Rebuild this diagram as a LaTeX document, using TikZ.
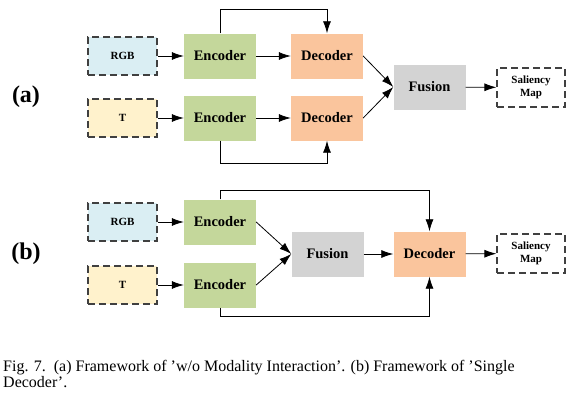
\documentclass[tikz,border=0pt]{standalone}
\usepackage{fontspec}
\setmainfont{Liberation Serif}
\usepackage{tikz}
\usetikzlibrary{arrows.meta}
\usetikzlibrary{calc}
\definecolor{rgbblue}{RGB}{218,238,243}
\definecolor{tyellow}{RGB}{255,242,204}
\definecolor{encgreen}{RGB}{196,215,155}
\definecolor{decorange}{RGB}{250,197,157}
\definecolor{fusgray}{RGB}{211,211,211}
\begin{document}
\begin{tikzpicture}[x=1pt,y=-1pt,
        box/.style={minimum width=72pt,minimum height=45pt,inner sep=0pt,
            font=\bfseries\fontsize{14.5}{16}\selectfont},
        inbox/.style={draw=black!75,dash pattern=on 7pt off 4pt,line width=1.2pt,
            minimum width=69pt,minimum height=38pt,inner sep=0pt,align=center,
            font=\bfseries\fontsize{11}{13}\selectfont},
        arr/.style={-{Latex[length=12pt,width=8pt]},line width=0.8pt},
        lab/.style={font=\bfseries\fontsize{24}{26}\selectfont}]
            \useasboundingbox (0,0) rectangle (582,415);
            % (a) two decoders
            \node[lab] (labA) at (26,97) {(a)};
            \node[box,fill=fusgray] (fusA) at (429.5,87) {Fusion};
            \node[inbox,minimum width=68pt,minimum height=39pt] (salA) at (531,87.5) {Saliency\\Map};
            \foreach \i/\y/\txt/\c in {1/56/RGB/rgbblue,2/118/T/tyellow} {
                \node[inbox,fill=\c] (inA\i) at (122.5,\y) {\txt};
                \node[box,fill=encgreen] (encA\i) at (220,\y) {Encoder};
                \node[box,fill=decorange] (decA\i) at (327,\y) {Decoder};
                \draw[arr] (inA\i) -- (encA\i);
                \draw[arr] (encA\i) -- (decA\i);
                \draw[arr] (decA\i.east) -- (fusA.west);
            }
            \draw[arr] (encA1.north) -- ++(0,-24) -| (decA1.north);
            \draw[arr] (encA2.south) -- ++(0,23) -| (decA2.south);
            \draw[arr] (fusA) -- (salA);
            % (b) single decoder
            \node[lab] (labB) at (26,254) {(b)};
            \node[box,fill=fusgray] (fusB) at (327.5,254) {Fusion};
            \node[box,fill=decorange] (decB) at (429.5,254) {Decoder};
            \node[inbox,minimum width=68pt,minimum height=39pt] (salB) at (531,253.5) {Saliency\\Map};
            \foreach \i/\y/\txt/\c in {1/222/RGB/rgbblue,2/285/T/tyellow} {
                \node[inbox,fill=\c] (inB\i) at (122.5,\y) {\txt};
                \node[box,fill=encgreen] (encB\i) at (220,\y) {Encoder};
                \draw[arr] (inB\i) -- (encB\i);
                \draw[arr] (encB\i.east) -- (fusB.west);
            }
            \draw[arr] (encB1.north) -- ++(0,-9) -| (decB.north);
            \draw[arr] (encB2.south) -- ++(0,9) -| (decB.south);
            \draw[arr] (fusB) -- (decB);
            \draw[arr] (decB) -- (salB);
            % caption
            \node[anchor=base west,inner sep=0pt,align=left,
                font=\fontsize{16}{16}\selectfont] (cap) at (3,387)
                {Fig. 7.\ \ (a) Framework of ’w/o Modality Interaction’. (b) Framework of ’Single\\Decoder’.};
\end{tikzpicture}
\end{document}
